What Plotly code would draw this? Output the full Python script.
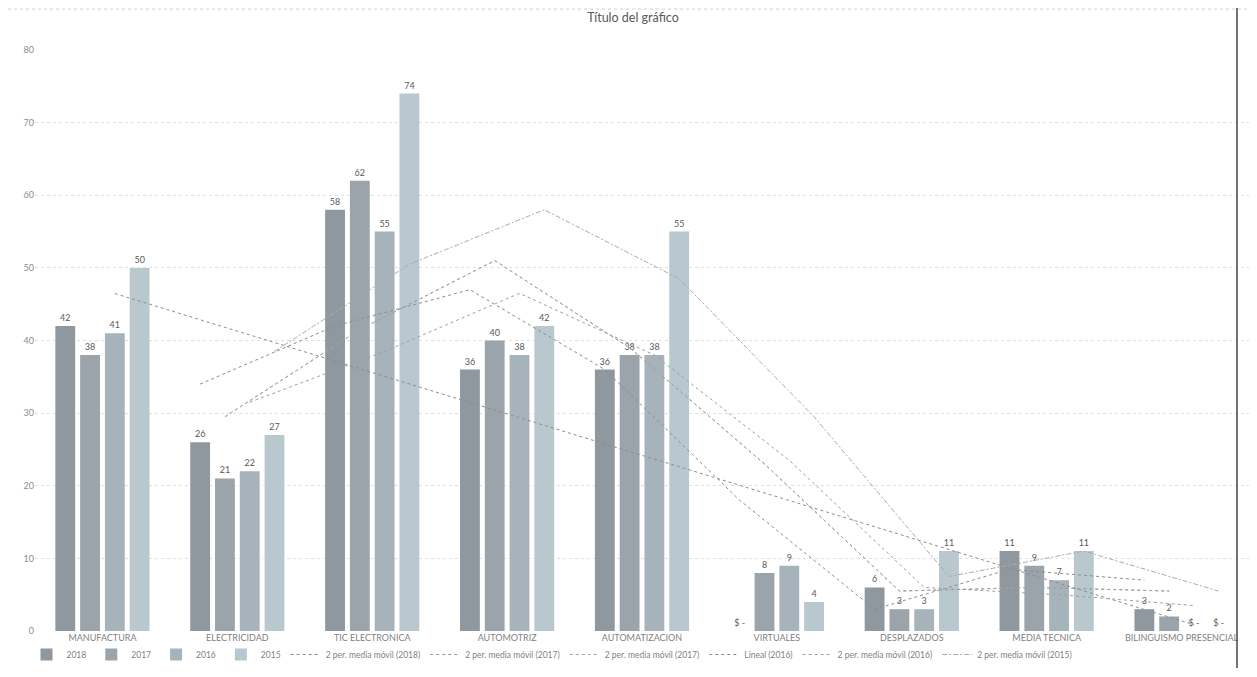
import numpy as np
import plotly.graph_objects as go

categories = ["MANUFACTURA", "ELECTRICIDAD", "TIC ELECTRONICA", "AUTOMOTRIZ",
              "AUTOMATIZACION", "VIRTUALES", "DESPLAZADOS", "MEDIA TECNICA",
              "BILINGUISMO PRESENCIAL"]
years = ["2018", "2017", "2016", "2015"]
v2018 = [42, 26, 58, 36, 36, 0, 6, 11, 3]
v2017 = [38, 21, 62, 40, 38, 8, 3, 9, 2]
v2016 = [41, 22, 55, 38, 38, 9, 3, 7, 0]
v2015 = [50, 27, 74, 42, 55, 4, 11, 11, 0]
y_ticks = [0, 10, 20, 30, 40, 50, 60, 70, 80]

series = [v2018, v2017, v2016, v2015]
bar_colors = ["#8f989f", "#9ba4ab", "#a7b3ba", "#b9c7cf"]

FONT = "Lato, Carlito, Calibri, sans-serif"
BARGAP = 0.265
BARGROUPGAP = 0.2
slot = (1 - BARGAP) / len(series)
offsets = [(k - (len(series) - 1) / 2) * slot for k in range(len(series))]

# figure geometry (page has an 8px body margin)
W, H = 1241, 661
ML, MR, MT, MB = 27, 0, 42, 37
PH = H - MT - MB
PW = W - ML - MR

def py(fy):  # figure pixel y -> paper y
    return (H - MB - fy) / PH

def px(fx):  # figure pixel x -> paper x
    return (fx - ML) / PW

xs = np.arange(len(categories))
fig = go.Figure()

for k, (name, vals, col) in enumerate(zip(years, series, bar_colors)):
    fig.add_trace(go.Bar(
        x=xs, y=vals, name=name, marker=dict(color=col, line=dict(width=0)),
        text=[str(v) if v else "$ -" for v in vals],
        textposition="outside", textfont=dict(size=9, color="#595959", family=FONT),
        cliponaxis=False,
    ))

def moving_avg(vals):
    a = np.array(vals, dtype=float)
    return (a[1:] + a[:-1]) / 2

line_defs = [
    ("2 per. media móvil (2018)", 0, "ma", "dot", "#8c8c8c"),
    ("2 per. media móvil (2017)", 1, "ma", "dot", "#999999"),
    ("2 per. media móvil (2017)", 1, "ma", "dot", "#a6a6a6"),
    ("Lineal (2016)", 2, "lin", "dot", "#8c8c8c"),
    ("2 per. media móvil (2016)", 2, "ma", "3px,3px", "#a0a0a0"),
    ("2 per. media móvil (2015)", 3, "ma", "5px,2px,2px,2px", "#ababab"),
]
for name, k, kind, dash, col in line_defs:
    vals = series[k]
    if kind == "ma":
        lx = xs[1:] + offsets[k]
        ly = moving_avg(vals)
    else:
        coef = np.polyfit(xs, np.array(vals, dtype=float), 1)
        lx = xs + offsets[k]
        ly = np.polyval(coef, xs)
    fig.add_trace(go.Scatter(
        x=lx, y=ly, name=name, mode="lines",
        line=dict(color=col, width=1, dash=dash),
    ))

fig.update_layout(
    width=W, height=H,
    paper_bgcolor="white", plot_bgcolor="white",
    font=dict(family=FONT, color="#7f7f7f", size=9),
    title=dict(text="Título del gráfico", x=(633 - 8) / W, xref="container", xanchor="center",
               y=1 - 10 / H, yref="container", yanchor="middle",
               font=dict(size=12.5, color="#595959", family=FONT)),
    barmode="group", bargap=BARGAP, bargroupgap=BARGROUPGAP,
    margin=dict(l=ML, r=MR, t=MT, b=MB),
    showlegend=True,
    legend=dict(orientation="h", x=px(544), xanchor="center", y=py(648), yanchor="middle",
                font=dict(size=8.5, color="#7f7f7f", family=FONT),
                bgcolor="rgba(0,0,0,0)", itemwidth=30, tracegroupgap=0),
    xaxis=dict(tickmode="array", tickvals=list(xs), ticktext=categories,
               range=[-0.5, len(categories) - 0.5], showgrid=False, zeroline=False,
               showline=False, ticks="", tickfont=dict(size=9, color="#7f7f7f")),
    yaxis=dict(range=[0, 80], tickmode="array", tickvals=y_ticks, showgrid=True,
               gridcolor="#e0e0e0", griddash="dot", gridwidth=1, zeroline=False,
               showline=False, ticks="", tickfont=dict(size=9, color="#8c8c8c")),
    shapes=[
        dict(type="line", xref="paper", yref="paper", x0=px(0), x1=1.0,
             y0=py(1), y1=py(1),
             line=dict(color="#cfcfcf", width=1, dash="dot")),
        dict(type="line", xref="paper", yref="paper", x0=px(1229), x1=px(1229),
             y0=py(H), y1=py(0),
             line=dict(color="#444444", width=1.5)),
    ],
)

fig.write_html("out.html")
